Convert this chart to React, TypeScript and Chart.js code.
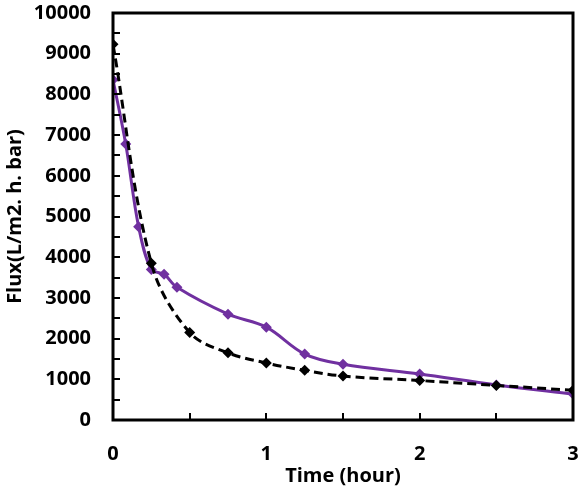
import React, { useEffect, useRef } from "react";
import { Chart, registerables } from "chart.js";

Chart.register(...registerables);

// Time in hours
const purpleTimes = [0, 0.083, 0.167, 0.25, 0.333, 0.417, 0.75, 1.0, 1.25, 1.5, 2.0, 2.5, 3.0];
const purpleFlux = [8360, 6780, 4750, 3700, 3580, 3260, 2600, 2280, 1620, 1370, 1130, 860, 640];

const blackTimes = [0, 0.25, 0.5, 0.75, 1.0, 1.25, 1.5, 2.0, 2.5, 3.0];
const blackFlux = [9230, 3850, 2150, 1650, 1400, 1220, 1080, 970, 850, 730];

const xTickLabels = [0, 1, 2, 3];
const yMax = 10000;
const yMinorStep = 500;
const xMinorStep = 0.5;

const FONT = "'Open Sans', 'Liberation Sans', sans-serif";

const toPoints = (xs: number[], ys: number[]) => xs.map((x, i) => ({ x, y: ys[i] }));

// Keep the plot area exactly where the layout padding puts it
const noOverflow = (s: any) => {
  s.paddingTop = 0;
  s.paddingBottom = 0;
  s.paddingLeft = 0;
  s.paddingRight = 0;
};

// Frame around the plot with short inward ticks
const framePlugin = {
  id: "frame",
  afterDatasetsDraw(chart: any) {
    const { ctx, chartArea, scales } = chart;
    const { left, right, top, bottom } = chartArea;
    ctx.save();
    ctx.strokeStyle = "#000";
    ctx.lineWidth = 2;
    ctx.beginPath();
    for (let v = yMinorStep; v < yMax; v += yMinorStep) {
      const y = Math.round(scales.y.getPixelForValue(v));
      ctx.moveTo(left, y);
      ctx.lineTo(left + 7, y);
    }
    for (let t = xMinorStep; t < 3; t += xMinorStep) {
      const x = Math.round(scales.x.getPixelForValue(t));
      ctx.moveTo(x, bottom);
      ctx.lineTo(x, bottom - 7);
    }
    ctx.stroke();
    ctx.lineWidth = 3;
    ctx.strokeRect(left, top, right - left, bottom - top);
    ctx.restore();
  },
};

export default function App() {
  const ref = useRef<HTMLCanvasElement>(null);

  useEffect(() => {
    if (!ref.current) return;
    const chart = new Chart(ref.current, {
      type: "scatter",
      data: {
        datasets: [
          {
            label: "A",
            data: toPoints(blackTimes, blackFlux),
            showLine: true,
            borderColor: "#000",
            backgroundColor: "#000",
            borderWidth: 3,
            borderDash: [9, 5],
            tension: 0.35,
            pointStyle: "rectRot",
            pointRadius: 5.5,
            pointBorderWidth: 0,
            order: 1,
          },
          {
            label: "B",
            data: toPoints(purpleTimes, purpleFlux),
            showLine: true,
            borderColor: "#7030A0",
            backgroundColor: "#7030A0",
            borderWidth: 3,
            tension: 0.35,
            pointStyle: "rectRot",
            pointRadius: 5.5,
            pointBorderWidth: 0,
            order: 2,
          },
        ],
      },
      options: {
        animation: false,
        responsive: false,
        layout: { padding: { top: 13, right: 15, left: 0, bottom: 0 } },
        plugins: { legend: { display: false }, tooltip: { enabled: false } },
        scales: {
          x: {
            type: "linear",
            min: 0,
            max: 3,
            afterBuildTicks: (s: any) => {
              s.ticks = xTickLabels.map((v) => ({ value: v }));
            },
            afterFit: (s: any) => {
              s.height = 70;
              noOverflow(s);
            },
            grid: { display: false, drawTicks: false },
            border: { display: false },
            ticks: {
              color: "#000",
              padding: 22,
              callback: (v: any) => String(v),
              font: { family: FONT, size: 20, weight: "bold" },
            },
            title: {
              display: true,
              text: "Time (hour)",
              color: "#000",
              font: { family: FONT, size: 20, weight: "bold" },
              padding: { top: 0, bottom: 2 },
            },
          },
          y: {
            type: "linear",
            min: 0,
            max: yMax,
            afterFit: (s: any) => {
              s.width = 113;
              noOverflow(s);
            },
            grid: { display: false, drawTicks: false },
            border: { display: false },
            ticks: {
              stepSize: 1000,
              color: "#000",
              padding: 22,
              callback: (v: any) => String(v),
              font: { family: FONT, size: 20, weight: "bold" },
            },
            title: {
              display: true,
              text: "Flux(L/m2. h. bar)",
              color: "#000",
              font: { family: FONT, size: 20, weight: "bold" },
              padding: { top: 3, bottom: 0 },
            },
          },
        },
      },
      plugins: [framePlugin],
    });
    return () => chart.destroy();
  }, []);

  return (
    <div style={{ position: "fixed", left: 0, top: 0, width: 588, height: 490, background: "#fff" }}>
      <canvas ref={ref} width={588} height={490} />
    </div>
  );
}
